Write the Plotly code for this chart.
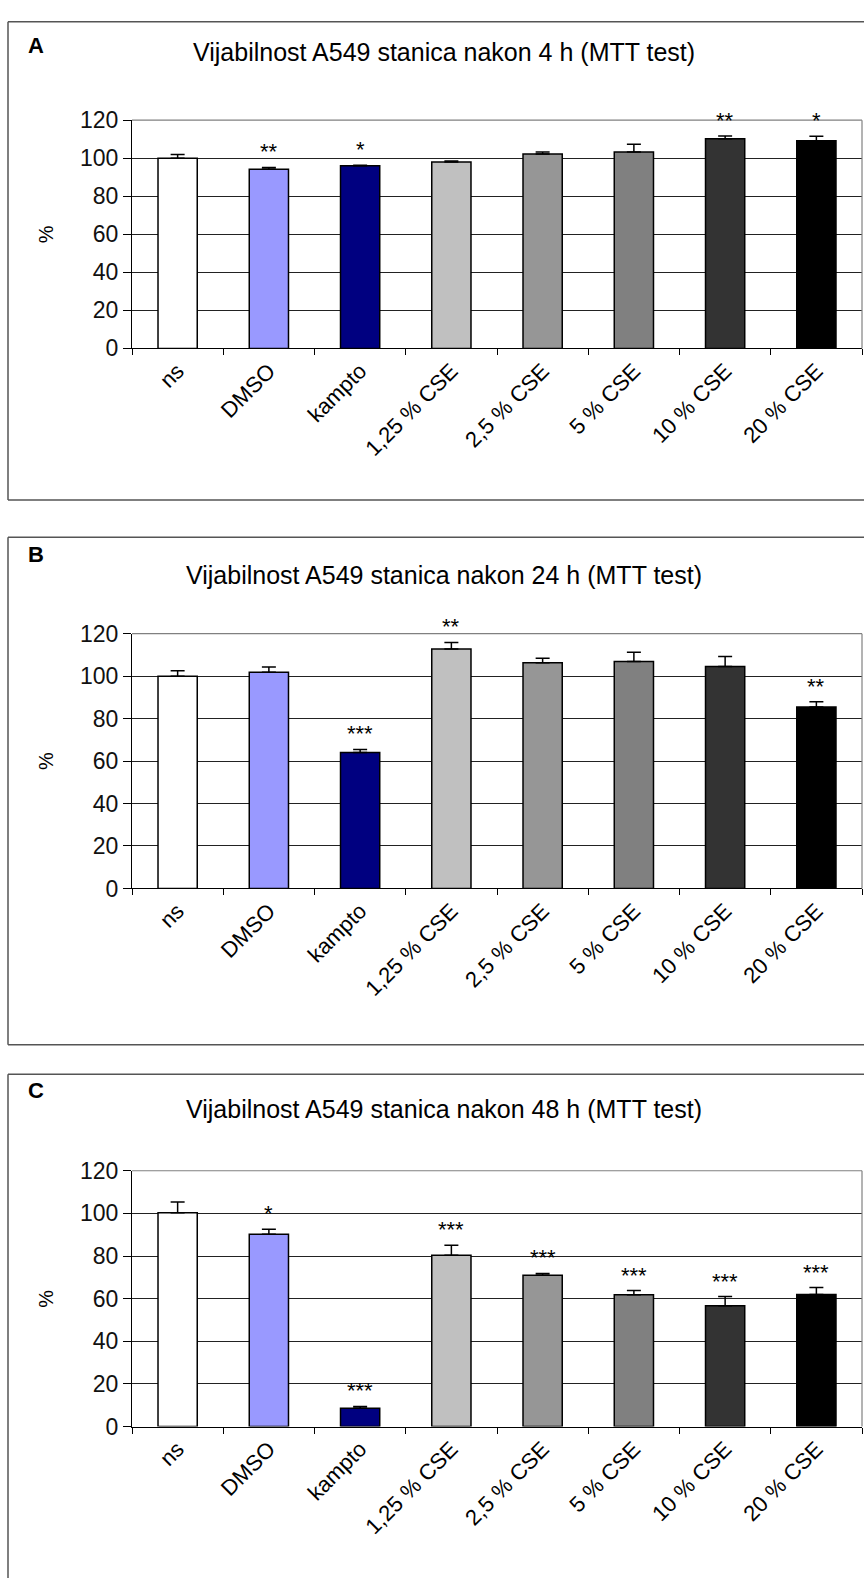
import plotly.graph_objects as go

W, H = 864, 1591

categories = ["ns", "DMSO", "kampto", "1,25 % CSE", "2,5 % CSE", "5 % CSE", "10 % CSE", "20 % CSE"]
bar_colors = ["#FFFFFF", "#9999FF", "#000080", "#C0C0C0", "#969696", "#808080", "#333333", "#000000"]

titles = ["Vijabilnost A549 stanica nakon 4 h (MTT test)",
          "Vijabilnost A549 stanica nakon 24 h (MTT test)",
          "Vijabilnost A549 stanica nakon 48 h (MTT test)"]
panel_letters = ["A", "B", "C"]
y_ticks = [0, 20, 40, 60, 80, 100, 120]

values_4h = [100, 94.2, 96.0, 98.0, 102.3, 103.3, 110.2, 109.2]
errors_4h = [2.0, 1.0, 0.3, 0.6, 1.0, 4.0, 1.5, 2.4]
stars_4h = ["", "**", "*", "", "", "", "**", "*"]

values_24h = [100, 101.8, 64.0, 112.8, 106.3, 106.9, 104.6, 85.5]
errors_24h = [2.6, 2.5, 1.5, 3.1, 2.1, 4.3, 4.7, 2.4]
stars_24h = ["", "", "***", "**", "", "", "", "**"]

values_48h = [100.3, 90.2, 8.6, 80.4, 71.0, 61.8, 56.7, 62.0]
errors_48h = [5.0, 2.4, 0.8, 4.7, 0.8, 2.0, 4.3, 3.2]
stars_48h = ["", "*", "***", "***", "***", "***", "***", "***"]

values = [values_4h, values_24h, values_48h]
errors = [errors_4h, errors_24h, errors_48h]
stars = [stars_4h, stars_24h, stars_48h]

# layout geometry in pixels (top-down)
plot_left, plot_right = 132, 862
plot_tops = [109, 631, 1177]
plot_bottoms = [341, 890, 1437]
box_tops = [9, 533, 1079]
box_bottoms = [495, 1049, None]
letter_y = [33, 551, 1095]
title_y = [40, 571, 1114]

FONT = "Liberation Sans, Arial, sans-serif"

def py(v):
    return 1 - v / H

def px(v):
    return v / W

fig = go.Figure()
shapes = []
annotations = []
layout_axes = {}
BOX = dict(color="#555555", width=1.5)

for i in range(3):
    n = i + 1
    xa = "x" if n == 1 else f"x{n}"
    ya = "y" if n == 1 else f"y{n}"
    fig.add_trace(go.Bar(
        x=categories, y=values[i],
        xaxis=xa, yaxis=ya,
        marker=dict(color=bar_colors, line=dict(color="black", width=1.5)),
        error_y=dict(type="data", array=errors[i], arrayminus=[0] * len(categories),
                     symmetric=False, color="black", thickness=1.5, width=7),
        showlegend=False, hoverinfo="skip",
    ))
    xkey = "xaxis" if n == 1 else f"xaxis{n}"
    ykey = "yaxis" if n == 1 else f"yaxis{n}"
    layout_axes[xkey] = dict(
        domain=[px(plot_left), px(plot_right)], anchor=ya, type="category",
        range=[-0.5, len(categories) - 0.5],
        showline=True, linecolor="black", linewidth=1,
        ticks="outside", tickson="boundaries", ticklen=6, tickcolor="black",
        tickangle=-45, tickfont=dict(family=FONT, size=22, color="black"),
        showgrid=False, zeroline=False, fixedrange=True,
    )
    layout_axes[ykey] = dict(
        domain=[py(plot_bottoms[i]), py(plot_tops[i])], anchor=xa,
        range=[0, 120], tickvals=y_ticks, ticktext=[str(t) for t in y_ticks],
        showline=True, linecolor="black", linewidth=1,
        ticks="outside", ticklen=8, tickcolor="black",
        tickfont=dict(family=FONT, size=23, color="#111"),
        showgrid=True, gridcolor="#222", gridwidth=1, zeroline=False, fixedrange=True,
    )
    # plot area top & right border
    shapes.append(dict(type="line", xref=f"{xa} domain", yref=f"{ya} domain",
                       x0=0, x1=1, y0=1, y1=1, line=dict(color="#808080", width=1.2)))
    shapes.append(dict(type="line", xref=f"{xa} domain", yref=f"{ya} domain",
                       x0=1, x1=1, y0=0, y1=1, line=dict(color="#808080", width=1.2)))
    # panel box (kept inside the page)
    bt = box_tops[i]
    bb = box_bottoms[i] if box_bottoms[i] is not None else H
    shapes.append(dict(type="line", xref="paper", yref="paper",
                       x0=px(8), x1=1, y0=py(bt), y1=py(bt), line=BOX))
    shapes.append(dict(type="line", xref="paper", yref="paper",
                       x0=px(8), x1=px(8), y0=py(bt), y1=py(bb), line=BOX))
    if box_bottoms[i] is not None:
        shapes.append(dict(type="line", xref="paper", yref="paper",
                           x0=px(8), x1=1, y0=py(bb), y1=py(bb), line=BOX))
    annotations.append(dict(text=f"<b>{panel_letters[i]}</b>", xref="paper", yref="paper",
                            x=px(26), y=py(letter_y[i]), xanchor="left", yanchor="middle",
                            showarrow=False, font=dict(family=FONT, size=22, color="black")))
    annotations.append(dict(text=titles[i], xref="paper", yref="paper",
                            x=px(444), y=py(title_y[i]), xanchor="center", yanchor="middle",
                            showarrow=False, font=dict(family=FONT, size=25, color="black")))
    annotations.append(dict(text="%", xref="paper", yref="paper",
                            x=px(46), y=py((plot_tops[i] + plot_bottoms[i]) / 2),
                            xanchor="center", yanchor="middle", textangle=-90,
                            showarrow=False, font=dict(family=FONT, size=20, color="black")))
    for c, v, e, s in zip(categories, values[i], errors[i], stars[i]):
        if s:
            annotations.append(dict(text=s, x=c, y=v + e, xref=xa, yref=ya,
                                    xanchor="center", yanchor="bottom", yshift=1,
                                    showarrow=False, font=dict(family=FONT, size=22, color="black")))

fig.update_layout(
    width=W, height=H,
    margin=dict(l=0, r=0, t=0, b=0),
    paper_bgcolor="white", plot_bgcolor="white",
    bargap=0.57,
    shapes=shapes, annotations=annotations,
    **layout_axes,
)

fig.write_html(
    "out.html",
    config={"displayModeBar": False, "staticPlot": True},
    post_script="document.body.style.margin='0';document.body.style.overflow='hidden';"
                "document.documentElement.style.overflow='hidden';",
)
